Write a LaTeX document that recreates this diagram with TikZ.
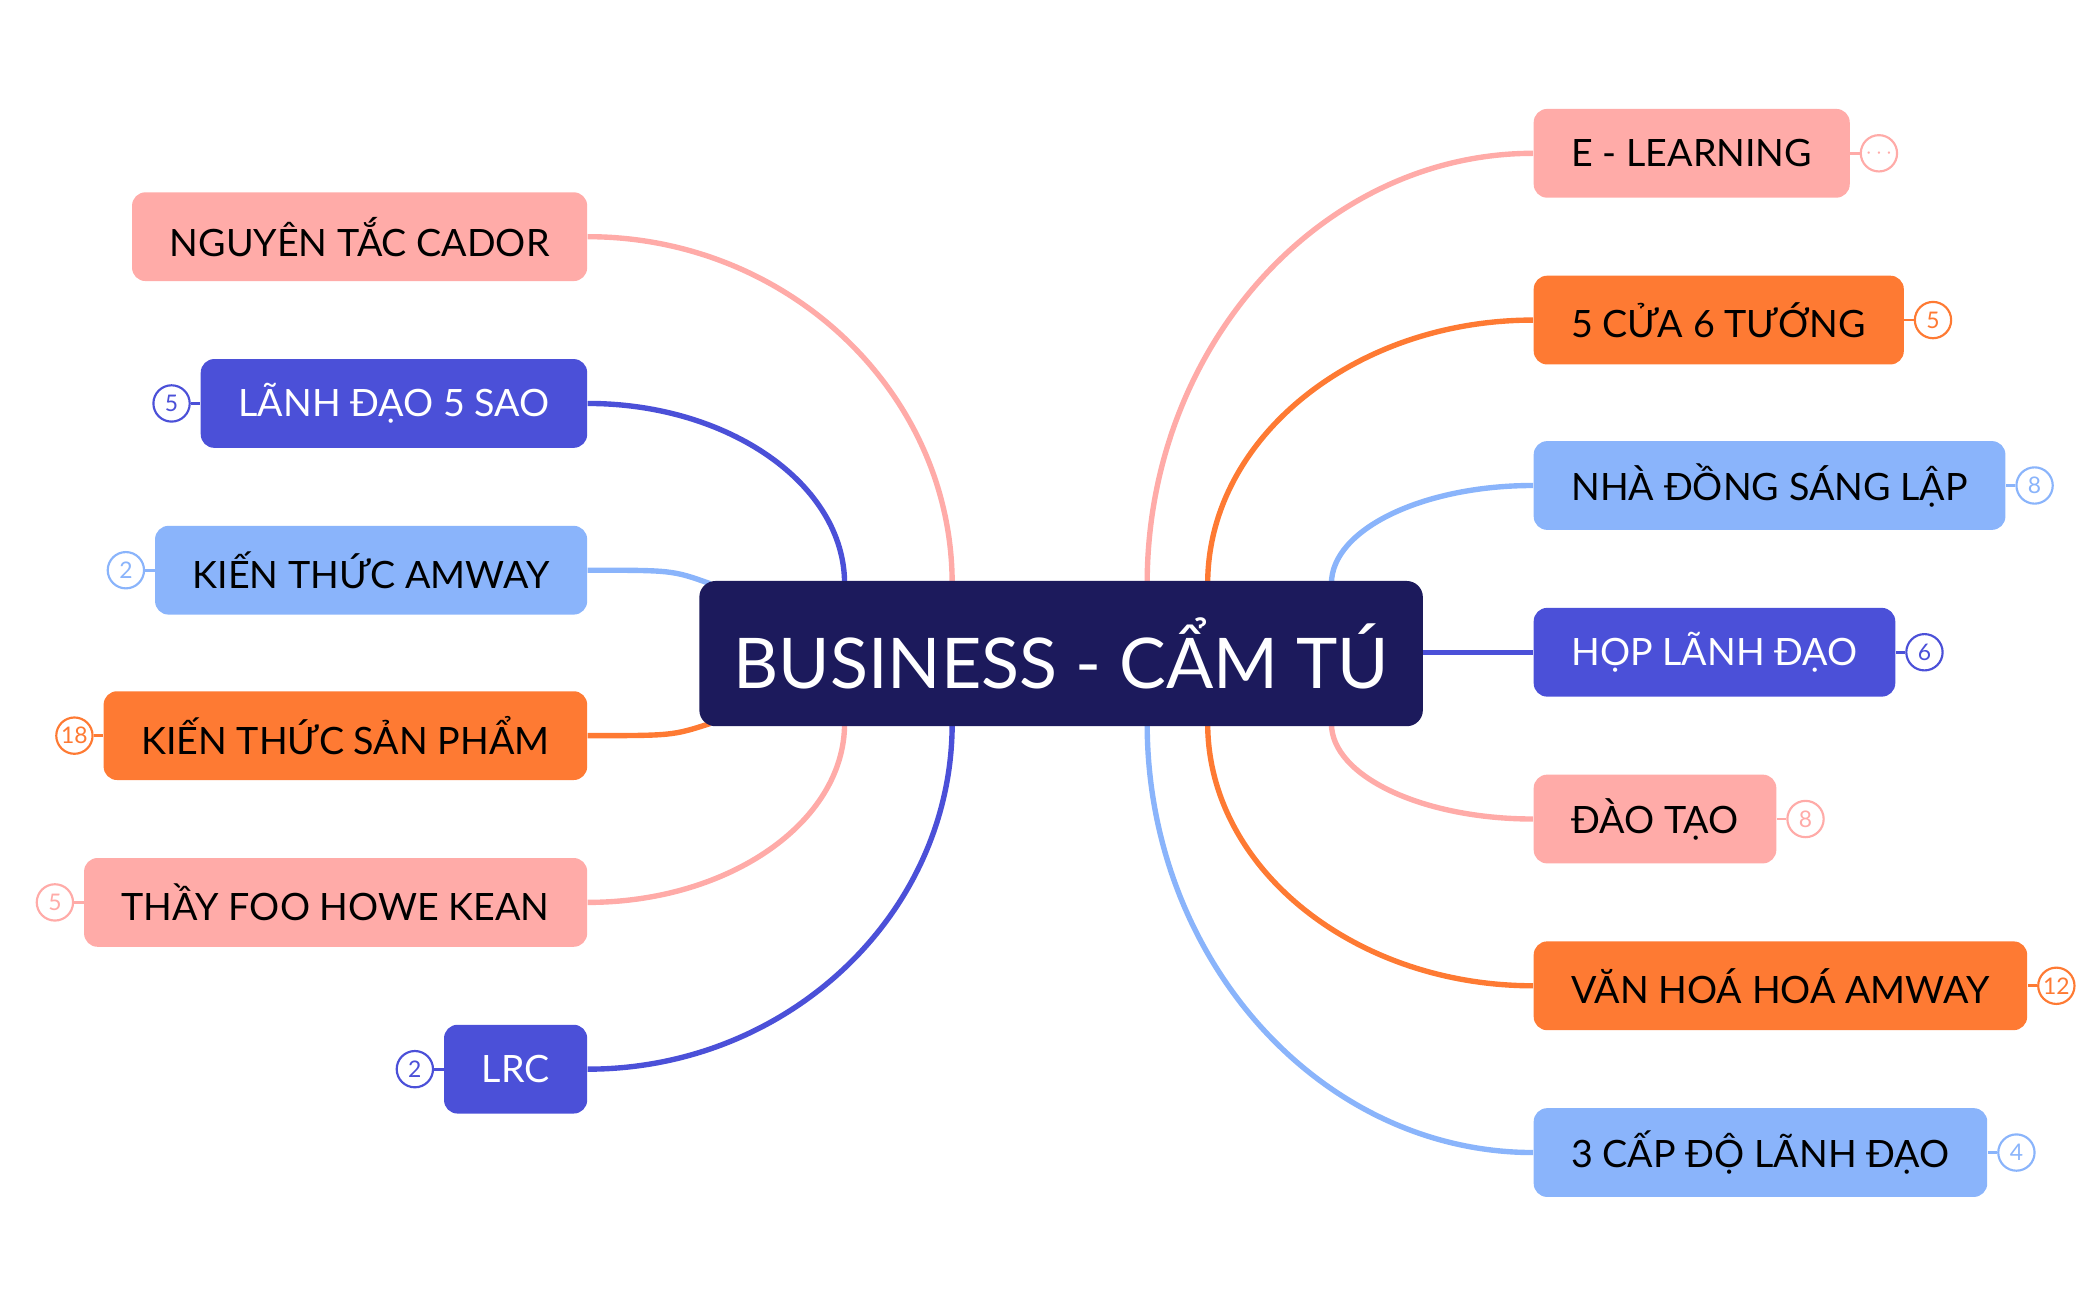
\documentclass[tikz,border=0pt]{standalone}
\usepackage{fontspec}
\setmainfont{Lato}
\usetikzlibrary{calc,backgrounds,positioning}
\definecolor{pk}{HTML}{FFABA8}
\definecolor{bl}{HTML}{4B50D8}
\definecolor{lb}{HTML}{8AB4FB}
\definecolor{og}{HTML}{FE7A33}
\definecolor{dk}{HTML}{1C1A5C}
\tikzset{
 box/.style={rounded corners=5pt,minimum height=33pt,inner xsep=14pt,font=\fontsize{14}{17}\selectfont},
 pkb/.style={box,fill=pk,text=black},
 blb/.style={box,fill=bl,text=white},
 lbb/.style={box,fill=lb,text=black},
 ogb/.style={box,fill=og,text=black},
 bdg/.style={circle,draw=#1,fill=white,text=#1,line width=0.8pt,minimum size=13.5pt,inner sep=0pt,font=\fontsize{8.5}{9}\selectfont},
 ln/.style={line width=2pt,draw=#1},
}
\newcommand{\crv}[3]{\draw[ln=#3] (#1) .. controls ($(#1)!0.55!(#1|-#2)$) and ($(#2)!0.55!(#1|-#2)$) .. (#2);}
\begin{document}
\begin{tikzpicture}[x=0.5pt,y=-0.5pt]
\useasboundingbox (0,0) rectangle (1560,967);
\node[rounded corners=6pt,fill=dk,text=white,minimum width=269pt,minimum height=54pt,font=\fontsize{26}{30}\selectfont] (c) at (789,486) {BUSINESS - CẨM TÚ};
% left
\node[pkb,anchor=east] (l1) at (437,176) {NGUYÊN TẮC CADOR};
\node[blb,anchor=east] (l2) at (437,300) {LÃNH ĐẠO 5 SAO};
\node[lbb,anchor=east] (l3) at (437,424) {KIẾN THỨC AMWAY};
\node[ogb,anchor=east] (l4) at (437,547) {KIẾN THỨC SẢN PHẨM};
\node[pkb,anchor=east] (l5) at (437,671) {THẦY FOO HOWE KEAN};
\node[blb,anchor=east] (l6) at (437,795) {LRC};
% right
\node[pkb,anchor=west] (r1) at (1140,114) {E - LEARNING};
\node[ogb,anchor=west] (r2) at (1140,238) {5 CỬA 6 TƯỚNG};
\node[lbb,anchor=west] (r3) at (1140,361) {NHÀ ĐỒNG SÁNG LẬP};
\node[blb,anchor=west] (r4) at (1140,485) {HỌP LÃNH ĐẠO};
\node[pkb,anchor=west] (r5) at (1140,609) {ĐÀO TẠO};
\node[ogb,anchor=west] (r6) at (1140,733) {VĂN HOÁ HOÁ AMWAY};
\node[lbb,anchor=west] (r7) at (1140,857) {3 CẤP ĐỘ LÃNH ĐẠO};
% badges
\node[bdg=bl,left=3.5pt of l2.west] (b2) {5};
\node[bdg=lb,left=3.5pt of l3.west] (b3) {2};
\node[bdg=og,left=3.5pt of l4.west] (b4) {18};
\node[bdg=pk,left=3.5pt of l5.west] (b5) {5};
\node[bdg=bl,left=3.5pt of l6.west] (b6) {2};
\node[bdg=pk,right=3.5pt of r1.east] (q1) {$\cdots$};
\node[bdg=og,right=3.5pt of r2.east] (q2) {5};
\node[bdg=lb,right=3.5pt of r3.east] (q3) {8};
\node[bdg=bl,right=3.5pt of r4.east] (q4) {6};
\node[bdg=pk,right=3.5pt of r5.east] (q5) {8};
\node[bdg=og,right=3.5pt of r6.east] (q6) {12};
\node[bdg=lb,right=3.5pt of r7.east] (q7) {4};
\begin{scope}[on background layer]
\draw[ln=bl,line width=1pt] (b2) -- (l2); \draw[ln=lb,line width=1pt] (b3) -- (l3);
\draw[ln=og,line width=1pt] (b4) -- (l4); \draw[ln=pk,line width=1pt] (b5) -- (l5);
\draw[ln=bl,line width=1pt] (b6) -- (l6); \draw[ln=pk,line width=1pt] (q1) -- (r1);
\draw[ln=og,line width=1pt] (q2) -- (r2); \draw[ln=lb,line width=1pt] (q3) -- (r3);
\draw[ln=bl,line width=1pt] (q4) -- (r4); \draw[ln=pk,line width=1pt] (q5) -- (r5);
\draw[ln=og,line width=1pt] (q6) -- (r6); \draw[ln=lb,line width=1pt] (q7) -- (r7);
\coordinate (a1) at (708,434); \coordinate (a2) at (628,434); \coordinate (a3) at (528,434);
\coordinate (a4) at (528,538); \coordinate (a5) at (628,538); \coordinate (a6) at (708,538);
\coordinate (e1) at (853,434); \coordinate (e2) at (898,434); \coordinate (e3) at (990,434);
\coordinate (e5) at (990,538); \coordinate (e6) at (898,538); \coordinate (e7) at (853,538);
\crv{a1}{l1.east}{pk} \crv{a2}{l2.east}{bl}
\draw[ln=lb] (a3) .. controls (500,424) .. (l3.east);
\draw[ln=og] (a4) .. controls (500,547) .. (l4.east);
\crv{a5}{l5.east}{pk} \crv{a6}{l6.east}{bl}
\crv{e1}{r1.west}{pk} \crv{e2}{r2.west}{og} \crv{e3}{r3.west}{lb}
\draw[ln=bl] (c.east|-r4.west) -- (r4.west);
\crv{e5}{r5.west}{pk} \crv{e6}{r6.west}{og} \crv{e7}{r7.west}{lb}
\end{scope}
\end{tikzpicture}
\end{document}
